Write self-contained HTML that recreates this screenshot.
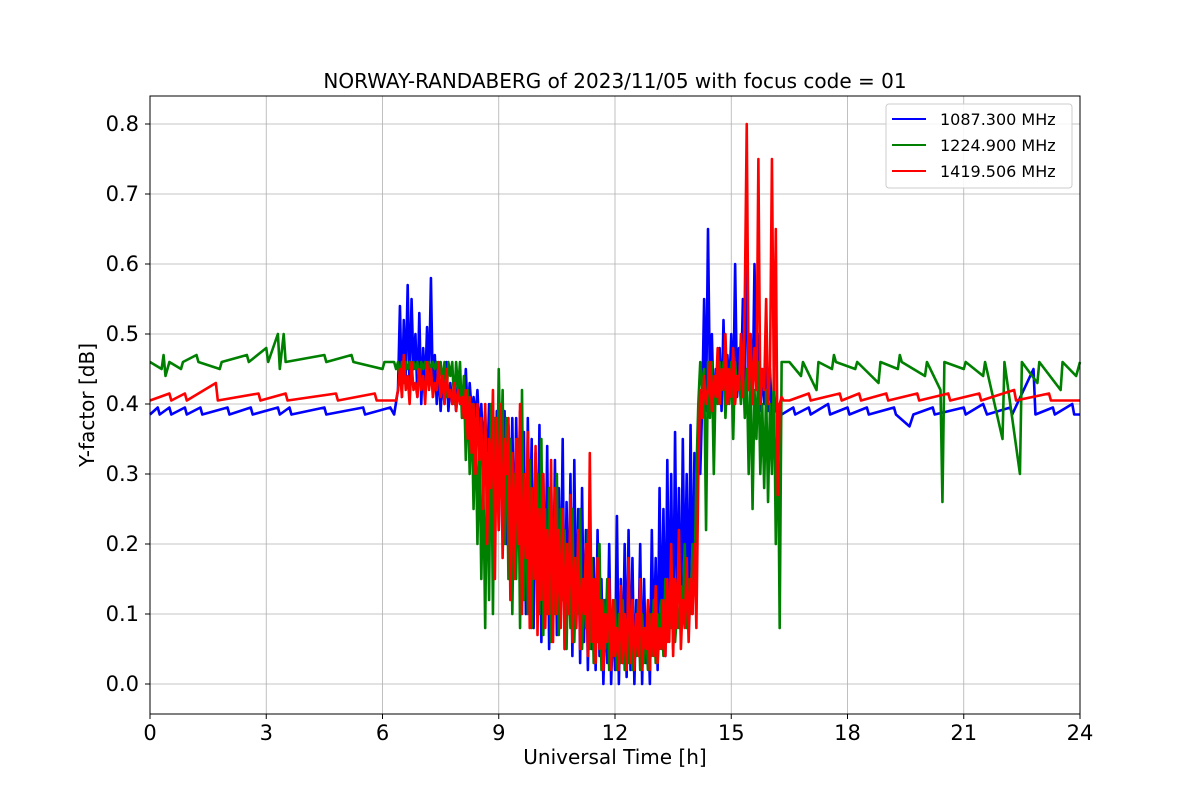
<!DOCTYPE html>
<html><head><meta charset="utf-8"><style>
html,body{margin:0;padding:0;background:#fff;}
svg text{font-family:"DejaVu Sans","Liberation Sans",sans-serif;fill:#000;}
</style></head><body>
<svg id="chart" width="1200" height="800" xmlns="http://www.w3.org/2000/svg">
<rect x="0" y="0" width="1200" height="800" fill="#fff"/>
<g id="grid"></g>
<g id="series"></g>
<rect x="150" y="96" width="930" height="618" fill="none" stroke="#000" stroke-width="1"/>
<g id="ticks"></g>
<text x="615" y="88" font-size="20" text-anchor="middle">NORWAY-RANDABERG of 2023/11/05 with focus code = 01</text>
<text x="615" y="764" font-size="20" text-anchor="middle">Universal Time [h]</text>
<text x="94" y="405" font-size="20" text-anchor="middle" transform="rotate(-90 94 405)">Y-factor [dB]</text>
<g>
<rect x="886" y="104" width="186" height="84" rx="3" fill="#fff" fill-opacity="0.85" stroke="#ccc"/>
<line x1="892" y1="119" x2="926" y2="119" stroke="#0000ff" stroke-width="2"/>
<text x="940" y="125" font-size="16">1087.300 MHz</text>
<line x1="892" y1="145" x2="926" y2="145" stroke="#008000" stroke-width="2"/>
<text x="940" y="151" font-size="16">1224.900 MHz</text>
<line x1="892" y1="171" x2="926" y2="171" stroke="#ff0000" stroke-width="2"/>
<text x="940" y="177" font-size="16">1419.506 MHz</text>
</g>
</svg>
<script>
const xTicks=[0,3,6,9,12,15,18,21,24];
const yTicks=[0.0,0.1,0.2,0.3,0.4,0.5,0.6,0.7,0.8];
const activeStep=0.05;

const bluePre=[[0,.385],[0.2,.395],[0.25,.385],[0.5,.395],[0.55,.385],[0.9,.395],[0.95,.385],[1.3,.395],[1.35,.385],[2.0,.395],[2.05,.385],[2.6,.395],[2.65,.385],[3.3,.395],[3.35,.385],[3.6,.395],[3.65,.385],[4.5,.395],[4.55,.385],[5.5,.395],[5.55,.385],[6.2,.395],[6.3,.385]];
const blueActiveStart=6.4;
const blueActive=[0.42,0.54,0.41,0.52,0.44,0.57,0.42,0.55,0.45,0.5,0.41,0.53,0.4,0.48,0.42,0.51,0.43,0.58,0.41,0.47,
0.40,0.45,0.39,0.44,0.40,0.46,0.39,0.43,0.40,0.42,0.39,0.44,0.40,0.42,0.39,0.45,0.38,0.43,0.39,0.41,
0.38,0.42,0.36,0.40,0.33,0.39,0.30,0.40,0.28,0.38,0.25,0.39,0.22,0.38,0.3,0.39,0.2,0.37,0.25,0.38,
0.18,0.38,0.22,0.39,0.15,0.36,0.1,0.38,0.2,0.35,0.08,0.33,0.15,0.37,0.06,0.3,0.12,0.34,0.05,0.3,
0.1,0.32,0.07,0.28,0.12,0.35,0.05,0.26,0.1,0.3,0.04,0.32,0.08,0.25,0.03,0.28,0.06,0.22,0.02,0.2,
0.05,0.18,0.02,0.22,0.04,0.15,0.0,0.12,0.03,0.2,0.0,0.1,0.02,0.24,0.0,0.15,0.03,0.2,0.01,0.22,
0.02,0.18,0.0,0.12,0.05,0.2,0.0,0.15,0.03,0.1,0.0,0.22,0.05,0.18,0.02,0.28,0.06,0.25,0.04,0.32,
0.08,0.3,0.05,0.36,0.1,0.28,0.06,0.35,0.12,0.3,0.08,0.37,0.1,0.33,0.2,0.38,0.3,
0.40,0.55,0.39,0.65,0.42,0.5,0.38,0.45,0.41,0.48,0.39,0.52,0.4,0.47,0.42,0.5,0.4,0.6,0.41,0.48,
0.42,0.55,0.4,0.66,0.42,0.5,0.4,0.6,0.42,0.5,0.39,0.45,0.4,0.48,0.39,0.45,0.38,0.42,0.39];
const bluePost=[[16.3,.385],[16.6,.395],[16.65,.385],[17,.395],[17.05,.385],[17.5,.4],[17.55,.385],[18,.395],[18.05,.385],[18.5,.395],[18.55,.385],[19.2,.395],[19.25,.385],[19.6,.368],[19.7,.385],[20.2,.395],[20.25,.385],[21,.395],[21.05,.385],[21.5,.4],[21.6,.385],[22.2,.395],[22.25,.385],[22.8,.45],[22.85,.385],[23.3,.395],[23.35,.385],[23.8,.4],[23.85,.385],[24,.385]];

const greenPre=[[0,.46],[0.3,.45],[0.35,.47],[0.4,.44],[0.5,.46],[0.8,.45],[0.85,.46],[1.2,.47],[1.25,.46],[1.8,.45],[1.85,.46],[2.5,.47],[2.55,.46],[3.0,.48],[3.05,.46],[3.3,.5],[3.35,.45],[3.45,.5],[3.5,.46],[4.5,.47],[4.55,.46],[5.2,.47],[5.25,.46],[6.0,.45],[6.05,.46],[6.3,.46]];
const greenActiveStart=6.35;
const greenActive=[0.45,0.46,0.44,0.46,0.43,0.46,0.45,0.46,0.44,0.46,0.45,0.46,0.43,0.46,0.45,0.46,0.44,0.46,0.45,0.46,
0.45,0.46,0.44,0.46,0.43,0.46,0.41,0.46,0.44,0.46,0.40,0.46,0.42,0.46,0.38,0.44,0.32,0.42,0.3,0.4,
0.25,0.38,0.2,0.35,0.15,0.3,0.08,0.33,0.12,0.4,0.1,0.38,0.25,0.45,0.3,0.42,0.2,0.38,0.15,0.35,
0.1,0.3,0.15,0.35,0.08,0.42,0.12,0.28,0.1,0.32,0.08,0.25,0.15,0.3,0.1,0.35,0.07,0.25,0.1,0.28,
0.06,0.2,0.1,0.3,0.07,0.25,0.12,0.22,0.05,0.2,0.08,0.25,0.06,0.18,0.1,0.25,0.05,0.15,0.08,0.22,
0.05,0.18,0.03,0.15,0.06,0.2,0.02,0.12,0.05,0.15,0.02,0.1,0.04,0.12,0.02,0.1,0.03,0.12,0.02,0.08,
0.03,0.1,0.02,0.08,0.04,0.12,0.02,0.1,0.03,0.08,0.02,0.1,0.04,0.12,0.03,0.1,0.05,0.12,0.04,0.15,
0.06,0.12,0.08,0.15,0.06,0.1,0.08,0.14,0.1,0.2,0.08,0.15,0.1,0.2,0.15,0.3,0.4,0.46,0.42,0.45,
0.22,0.46,0.38,0.46,0.3,0.44,0.4,0.46,0.42,0.46,0.38,0.45,0.4,0.46,0.35,0.46,0.42,0.44,0.4,0.46,
0.38,0.45,0.3,0.44,0.25,0.42,0.35,0.46,0.3,0.4,0.28,0.42,0.26,0.4,0.3,0.45,0.2,0.4,0.08,0.46];
const greenPost=[[16.5,.46],[16.8,.44],[16.85,.46],[17.2,.42],[17.25,.46],[17.6,.45],[17.65,.47],[17.7,.46],[18.2,.45],[18.25,.46],[18.8,.43],[18.85,.46],[19.3,.45],[19.35,.47],[19.4,.46],[20.0,.44],[20.05,.46],[20.4,.42],[20.45,.26],[20.5,.46],[21.0,.45],[21.05,.46],[21.5,.44],[21.55,.46],[22.0,.35],[22.05,.46],[22.45,.3],[22.5,.46],[22.9,.43],[22.95,.46],[23.5,.42],[23.55,.46],[23.9,.44],[24,.46]];

const redPre=[[0,.405],[0.5,.415],[0.55,.405],[0.9,.415],[0.95,.405],[1.7,.43],[1.75,.405],[2.8,.415],[2.85,.405],[3.5,.415],[3.55,.405],[4.8,.415],[4.85,.405],[5.8,.415],[5.85,.405],[6.35,.405]];
const redActiveStart=6.4;
const redActive=[0.42,0.45,0.41,0.47,0.42,0.44,0.4,0.46,0.42,0.43,0.41,0.45,0.42,0.44,0.4,0.46,0.42,0.45,0.41,0.43,
0.42,0.46,0.41,0.44,0.4,0.45,0.41,0.42,0.4,0.43,0.39,0.42,0.4,0.41,0.38,0.42,0.35,0.41,0.33,0.4,
0.3,0.4,0.32,0.38,0.25,0.4,0.2,0.35,0.28,0.42,0.15,0.38,0.22,0.4,0.18,0.35,0.3,0.38,0.12,0.33,
0.15,0.35,0.2,0.4,0.1,0.3,0.18,0.36,0.08,0.28,0.15,0.34,0.07,0.25,0.12,0.3,0.08,0.22,0.1,0.32,
0.06,0.28,0.1,0.22,0.08,0.25,0.05,0.2,0.1,0.27,0.06,0.18,0.08,0.22,0.05,0.15,0.1,0.2,0.04,0.33,
0.06,0.15,0.03,0.18,0.05,0.12,0.02,0.1,0.06,0.15,0.02,0.12,0.04,0.08,0.02,0.14,0.03,0.1,0.02,0.18,
0.03,0.12,0.02,0.1,0.04,0.15,0.02,0.08,0.05,0.12,0.02,0.1,0.04,0.14,0.03,0.08,0.05,0.12,0.04,0.15,
0.06,0.2,0.04,0.15,0.08,0.22,0.05,0.12,0.08,0.18,0.06,0.15,0.1,0.2,0.08,0.3,0.42,0.38,0.44,0.4,
0.42,0.46,0.39,0.44,0.41,0.48,0.4,0.45,0.42,0.5,0.4,0.45,0.41,0.48,0.4,0.44,0.42,0.5,0.41,0.55,
0.8,0.42,0.5,0.4,0.48,0.42,0.75,0.4,0.45,0.42,0.55,0.4,0.45,0.75,0.42,0.65,0.27,0.4,0.41,0.405];
const redPost=[[16.5,.405],[17,.415],[17.05,.405],[17.8,.415],[17.85,.405],[18.3,.415],[18.35,.405],[19,.415],[19.05,.405],[19.8,.415],[19.85,.405],[20.6,.415],[20.65,.405],[21.4,.415],[21.45,.405],[22.3,.42],[22.35,.405],[23.2,.415],[23.25,.405],[24,.405]];

const X0=150,X1=1080,Y0=684,YPER=700;
function xs(t){return X0+(X1-X0)*t/24;}
function ys(v){return Y0-v*YPER;}
const NS='http://www.w3.org/2000/svg';
function mk(tag,attrs,parent){const e=document.createElementNS(NS,tag);for(const k in attrs)e.setAttribute(k,attrs[k]);parent.appendChild(e);return e;}
const grid=document.getElementById('grid'),ticks=document.getElementById('ticks'),sg=document.getElementById('series');
xTicks.forEach(t=>{
 const g=mk('line',{x1:xs(t),x2:xs(t),y1:96,y2:714,stroke:'#b0b0b0','stroke-width':0.8},grid);
 
 
 mk('line',{x1:xs(t),x2:xs(t),y1:714,y2:719,stroke:'#000'},ticks);
 const tx=mk('text',{x:xs(t),y:740,'font-size':21,'text-anchor':'middle'},ticks);tx.textContent=t;
 
 
});
yTicks.forEach(v=>{
 const g=mk('line',{x1:150,x2:1080,y1:ys(v),y2:ys(v),stroke:'#b0b0b0','stroke-width':0.8},grid);
 
 
 mk('line',{x1:145,x2:150,y1:ys(v),y2:ys(v),stroke:'#000'},ticks);
 const tx=mk('text',{x:139,y:ys(v)+7,'font-size':21,'text-anchor':'end'},ticks);tx.textContent=v.toFixed(1);
 
 
});
function build(pre,start,act,post){
 const pts=pre.slice();
 act.forEach((v,i)=>pts.push([start+i*activeStep,v]));
 return pts.concat(post);
}
function draw(pts,color,name){
 let d='';
 pts.forEach((p,i)=>{
  d+=(i===0?'M':'L')+xs(p[0]).toFixed(2)+','+ys(p[1]).toFixed(2);
 });
 const path=mk('path',{d:d,fill:'none',stroke:color,'stroke-width':2.6,'stroke-linejoin':'round'},sg);
 
 
}
draw(build(bluePre,blueActiveStart,blueActive,bluePost),'#0000ff','series-1087-mhz');
draw(build(greenPre,greenActiveStart,greenActive,greenPost),'#008000','series-1224-mhz');
draw(build(redPre,redActiveStart,redActive,redPost),'#ff0000','series-1419-mhz');
</script>
</body></html>
